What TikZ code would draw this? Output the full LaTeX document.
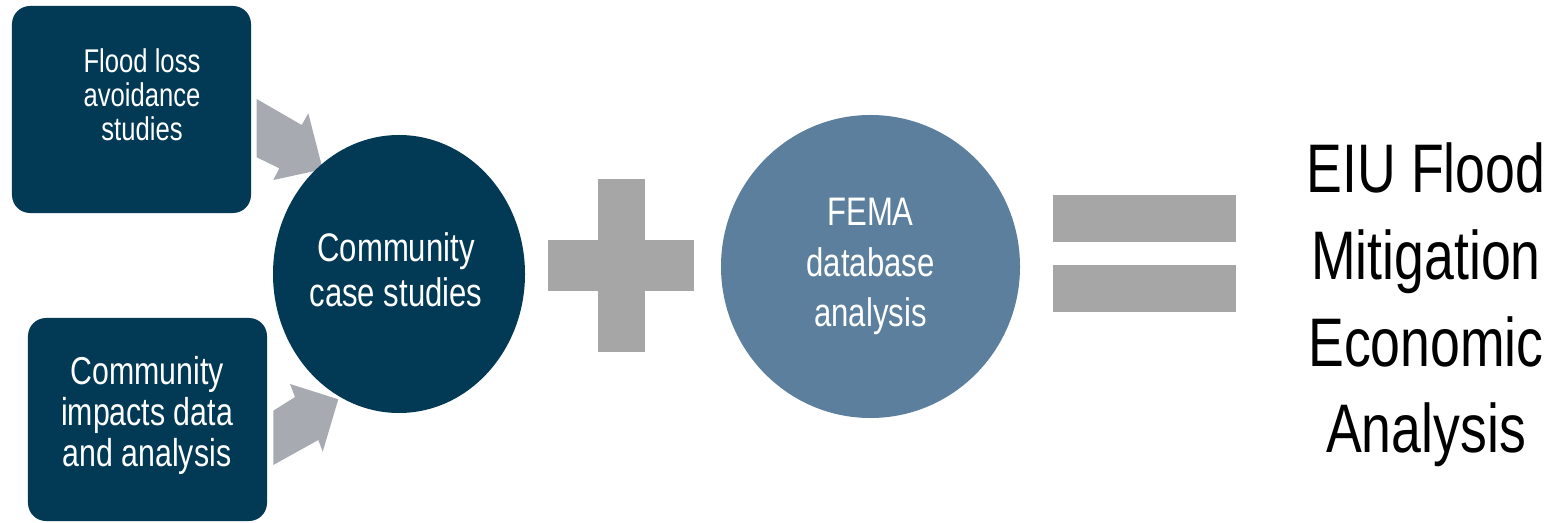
\documentclass[tikz,border=0pt]{standalone}
\usepackage{fontspec}
\setmainfont{Liberation Sans}[FakeStretch=0.78]
\usetikzlibrary{shapes.geometric}
\definecolor{eiunavy}{RGB}{2,58,86}
\definecolor{femablue}{RGB}{91,127,157}
\definecolor{arrowgray}{RGB}{167,170,176}
\definecolor{signgray}{RGB}{166,166,166}

\begin{document}
\begin{tikzpicture}[x=1bp, y=-1bp,
  studybox/.style={rectangle, rounded corners=18bp, fill=eiunavy, inner sep=0pt, minimum width=239bp},
  hub/.style={ellipse, inner sep=0pt, text=white, align=center},
  boxtext/.style={text=white, align=center, inner sep=0pt}]
\useasboundingbox[fill=white] (0,0) rectangle (1563,523);

% Input studies
\node[studybox, minimum height=207bp] (floodloss) at (131.5,109.5) {};
\node[boxtext, font=\fontsize{33}{34}\selectfont] (floodtxt) at (142,95) {Flood loss\\avoidance\\studies};

\node[studybox, minimum height=203bp] (impacts) at (147.5,419.5) {};
\node[boxtext, font=\fontsize{39}{41}\selectfont] (impactstxt) at (147,415.5) {Community\\impacts data\\and analysis};

% Block arrows into the case studies
\fill[arrowgray] (256.7,99) -- (301.7,125) -- (308.3,113.3) -- (322.7,169.3)
  -- (273.3,180) -- (279.3,168.3) -- (256.7,157.3) -- cycle;
\fill[arrowgray] (273.3,410.7) -- (295,397) -- (290,384) -- (338.3,399.3)
  -- (322.7,451.7) -- (318.3,440) -- (273.3,465) -- cycle;

% Community case studies
\node[hub, fill=eiunavy, minimum width=252bp, minimum height=278bp] (casestudies) at (399,274) {};
\node[boxtext, font=\fontsize{40}{45}\selectfont] (casetxt) at (396,270) {Community\\case studies};

% Plus
\fill[signgray] (548,240) rectangle (694,291);
\fill[signgray] (598,179) rectangle (645,352);

% FEMA
\node[hub, fill=femablue, minimum width=299bp, minimum height=303bp,
  font=\fontsize{40}{51}\selectfont] (fema) at (870.5,266.5) {FEMA\\database\\analysis};

% Equals
\fill[signgray] (1053,195) rectangle (1236,242);
\fill[signgray] (1053,265) rectangle (1236,312);

% Result
\node[font=\fontsize{69}{87}\selectfont, align=center, inner sep=0pt] (eiu) at (1426,305)
  {EIU Flood\\Mitigation\\Economic\\Analysis};
\end{tikzpicture}
\end{document}
